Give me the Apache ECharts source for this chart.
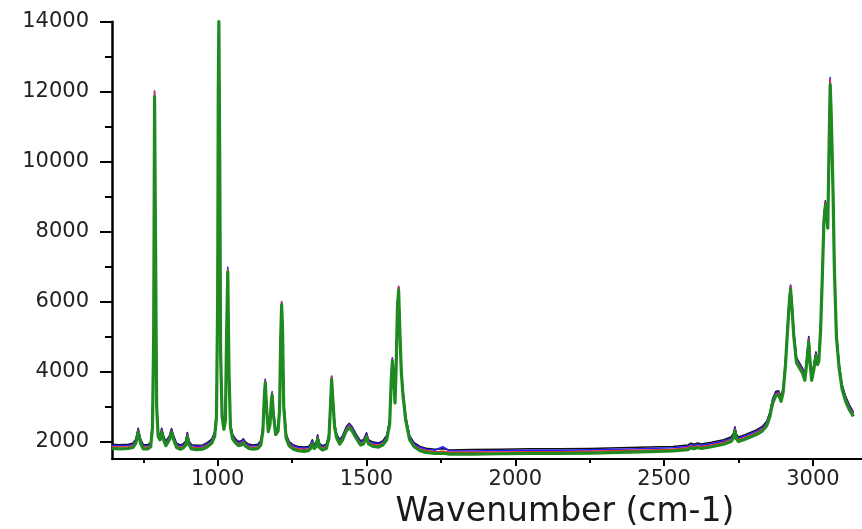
<!DOCTYPE html>
<html>
<head>
<meta charset="utf-8">
<script src="https://cdn.jsdelivr.net/npm/echarts@6/dist/echarts.min.js"></script>
<style>
html,body{margin:0;padding:0;background:#fff;}
#chart{width:862px;height:529px;}
</style>
</head>
<body>
<div id="chart"></div>
<script>
// Raman shift (cm-1)
const wavenumbers = [
  645,670,700,715,725,733,741,750,765,775,
  781,785,788,791,795,800,806,812,818,826,
  832,838,845,852,862,875,885,893,898,904,
  912,930,950,965,980,990,996,1000,1002,1004,
  1007,1010,1015,1021,1026,1030,1034,1038,1043,1050,
  1060,1070,1080,1086,1092,1105,1120,1135,1145,1152,
  1157,1160,1164,1170,1176,1180,1183,1187,1195,1203,
  1208,1212,1215,1218,1222,1230,1240,1255,1270,1290,
  1305,1312,1318,1324,1331,1336,1342,1352,1365,1374,
  1379,1383,1387,1393,1400,1410,1420,1432,1442,1452,
  1465,1480,1490,1500,1507,1520,1540,1555,1568,1578,
  1583,1587,1591,1596,1600,1604,1608,1612,1617,1623,
  1632,1645,1660,1680,1700,1730,1756,1780,1850,1950,
  2050,2150,2250,2350,2450,2530,2580,2590,2600,2613,
  2625,2660,2700,2725,2733,2738,2743,2750,2770,2790,
  2810,2830,2845,2855,2865,2875,2885,2893,2900,2908,
  2915,2921,2925,2930,2936,2945,2955,2965,2973,2980,
  2986,2991,2996,3002,3010,3016,3020,3026,3032,3037,
  3042,3047,3050,3054,3058,3061,3064,3068,3072,3079,
  3088,3098,3110,3123,3136
];

const blackCounts = [
  1920,1910,1920,1950,2070,2380,2070,1910,1910,1970,
  2520,5120,11900,8120,3120,2270,2170,2380,2170,2000,
  2020,2170,2370,2170,1950,1900,1940,2020,2260,2020,
  1910,1890,1900,1970,2070,2270,2820,6120,12000,14000,
  10120,4620,2820,2470,2720,5120,6900,4120,2520,2200,
  2080,2000,2020,2080,2000,1920,1900,1920,2020,2420,
  3420,3760,3120,2400,2620,3220,3400,2920,2320,2420,
  3020,5120,5950,5320,3120,2220,2000,1900,1860,1840,
  1860,1920,2050,1920,1970,2190,1950,1880,1920,2220,
  3120,3850,3320,2520,2220,2050,2170,2420,2520,2420,
  2220,2020,2050,2250,2050,1990,1960,2020,2170,2620,
  3820,4350,4020,3220,4320,5920,6400,5320,4120,3420,
  2720,2170,1970,1860,1810,1780,1790,1760,1770,1780,
  1790,1790,1800,1820,1840,1860,1900,1950,1920,1960,
  1930,1980,2050,2130,2230,2420,2210,2130,2190,2260,
  2330,2430,2580,2830,3230,3430,3450,3280,3530,4330,
  5330,6130,6450,5930,5130,4400,4250,4100,3900,4440,
  5000,4350,3900,4150,4560,4350,4450,5330,6930,8430,
  8880,8530,8230,10330,12350,11630,10630,9130,7130,5130,
  4240,3640,3290,3040,2850
];

const blueCounts = [
  1890,1880,1890,1920,2040,2350,2040,1880,1880,1940,
  2490,5150,12020,8150,3090,2240,2140,2350,2140,1970,
  1990,2140,2340,2140,1920,1870,1910,1990,2230,1990,
  1880,1860,1870,1940,2040,2240,2800,6100,12100,14000,
  10100,4600,2790,2440,2690,5100,6980,4100,2490,2170,
  2050,1970,1990,2050,1970,1890,1870,1890,1990,2390,
  3390,3780,3090,2370,2590,3190,3420,2890,2290,2390,
  2990,5100,6000,5300,3090,2190,1970,1870,1830,1810,
  1830,1890,2020,1890,1940,2160,1920,1850,1890,2190,
  3090,3870,3290,2490,2190,2020,2140,2390,2500,2390,
  2190,1990,2020,2220,2020,1960,1930,1990,2140,2590,
  3800,4390,3990,3190,4290,5900,6440,5300,4090,3390,
  2690,2140,1940,1830,1780,1750,1850,1730,1730,1740,
  1750,1750,1760,1780,1800,1820,1860,1910,1880,1920,
  1890,1940,2010,2090,2190,2400,2170,2090,2150,2220,
  2290,2390,2540,2790,3190,3390,3420,3240,3490,4290,
  5290,6090,6470,5890,5090,4360,4210,4060,3860,4400,
  4980,4310,3860,4110,4540,4310,4410,5290,6890,8390,
  8860,8490,8190,10290,12400,11590,10590,9090,7090,5090,
  4200,3600,3250,3000,2820
];

const redCounts = [
  1850,1840,1850,1880,2000,2320,2000,1840,1840,1900,
  2450,5100,12000,8100,3050,2200,2100,2320,2100,1930,
  1950,2100,2300,2100,1880,1830,1870,1950,2200,1950,
  1840,1820,1830,1900,2000,2200,2760,6050,12050,14000,
  10050,4550,2750,2400,2650,5050,6920,4050,2450,2130,
  2010,1930,1950,2010,1930,1850,1830,1850,1950,2350,
  3350,3740,3050,2330,2550,3150,3390,2850,2250,2350,
  2950,5050,5980,5250,3050,2150,1930,1830,1790,1770,
  1790,1850,1980,1850,1900,2120,1880,1810,1850,2150,
  3050,3840,3250,2450,2150,1980,2100,2350,2460,2350,
  2150,1950,1980,2180,1980,1920,1890,1950,2100,2550,
  3750,4360,3950,3150,4250,5850,6420,5250,4050,3350,
  2650,2100,1900,1790,1740,1710,1720,1690,1690,1700,
  1710,1710,1720,1740,1760,1780,1820,1870,1840,1880,
  1850,1900,1970,2050,2150,2360,2130,2050,2110,2180,
  2250,2350,2500,2750,3150,3350,3390,3200,3450,4250,
  5250,6050,6440,5850,5050,4320,4170,4020,3820,4360,
  4930,4270,3820,4070,4500,4270,4370,5250,6850,8350,
  8830,8450,8150,10250,12350,11550,10550,9050,7050,5050,
  4160,3560,3210,2960,2780
];

const greenCounts = [
  1800,1790,1800,1830,1950,2260,1950,1790,1790,1850,
  2400,5000,11850,8000,3000,2150,2050,2260,2050,1880,
  1900,2050,2250,2050,1830,1780,1820,1900,2140,1900,
  1790,1770,1780,1850,1950,2150,2700,6000,12000,14000,
  10000,4500,2700,2350,2600,5000,6850,4000,2400,2080,
  1960,1880,1900,1960,1880,1800,1780,1800,1900,2300,
  3300,3680,3000,2280,2500,3100,3330,2800,2200,2300,
  2900,5000,5900,5200,3000,2100,1880,1780,1740,1720,
  1740,1800,1930,1800,1850,2070,1830,1760,1800,2100,
  3000,3780,3200,2400,2100,1930,2050,2300,2400,2300,
  2100,1900,1930,2130,1930,1870,1840,1900,2050,2500,
  3700,4300,3900,3100,4200,5800,6330,5200,4000,3300,
  2600,2050,1850,1740,1690,1660,1670,1640,1640,1650,
  1660,1660,1670,1690,1710,1730,1770,1820,1790,1830,
  1800,1850,1920,2000,2100,2300,2080,2000,2060,2130,
  2200,2300,2450,2700,3100,3300,3330,3150,3400,4200,
  5200,6000,6350,5800,5000,4250,4100,3950,3750,4300,
  4850,4200,3750,4000,4430,4200,4300,5200,6800,8300,
  8750,8400,8100,10200,12200,11500,10500,9000,7000,5000,
  4100,3500,3150,2900,2720
];

const xMajorTicks = [1000, 1500, 2000, 2500, 3000];
const xMinorTicks = [750, 1250, 1750, 2250, 2750];
const yMajorTicks = [2000, 4000, 6000, 8000, 10000, 12000, 14000];
const yMinorTicks = [3000, 5000, 7000, 9000, 11000, 13000];

function pairs(ys) { return wavenumbers.map((x, i) => [x, ys[i]]); }
const plain = v => String(Math.round(v));

const chart = echarts.init(document.getElementById('chart'), null, { renderer: 'canvas' });
const fontFamily = '"DejaVu Sans", Arial, sans-serif';
const lineSeries = (name, ys, color, width, z) => ({
  name, type: 'line', data: pairs(ys), showSymbol: false, symbol: 'none',
  smooth: false, z, lineStyle: { color, width, join: 'round' }, itemStyle: { color }
});

chart.setOption({
  animation: false,
  backgroundColor: '#ffffff',
  grid: { left: 112, right: 0, top: 21.7, bottom: 70, containLabel: false, outerBoundsMode: 'none' },
  xAxis: [
    {
      type: 'value', min: 645, max: 3165, position: 'bottom',
      name: 'Wavenumber (cm-1)', nameLocation: 'middle', nameGap: 37,
      nameTextStyle: { fontFamily, fontSize: 33, color: '#1a1a1a', padding: [0, 0, 0, 156] },
      axisLine: { show: true, onZero: false, lineStyle: { color: '#000', width: 2 } },
      axisTick: { show: true, customValues: xMajorTicks, length: 7, lineStyle: { color: '#000', width: 2 } },
      axisLabel: { show: true, customValues: xMajorTicks, formatter: plain, fontFamily, fontSize: 21, color: '#222', margin: 10 },
      splitLine: { show: false }
    },
    {
      type: 'value', min: 645, max: 3165, position: 'bottom', gridIndex: 0,
      axisLine: { show: false, onZero: false },
      axisTick: { show: true, customValues: xMinorTicks, length: 4, lineStyle: { color: '#000', width: 2 } },
      axisLabel: { show: false },
      splitLine: { show: false }
    }
  ],
  yAxis: [
    {
      type: 'value', min: 1500, max: 14000, position: 'left',
      axisLine: { show: true, onZero: false, lineStyle: { color: '#000', width: 2.5 } },
      axisTick: { show: true, customValues: yMajorTicks, length: 12, lineStyle: { color: '#000', width: 2 } },
      axisLabel: { show: true, customValues: yMajorTicks, formatter: plain, fontFamily, fontSize: 21, color: '#222', margin: 23 },
      splitLine: { show: false }
    },
    {
      type: 'value', min: 1500, max: 14000, position: 'left', gridIndex: 0,
      axisLine: { show: false, onZero: false },
      axisTick: { show: true, customValues: yMinorTicks, length: 7, lineStyle: { color: '#000', width: 2 } },
      axisLabel: { show: false },
      splitLine: { show: false }
    }
  ],
  series: [
    lineSeries('black', blackCounts, '#111111', 1.5, 1),
    lineSeries('blue', blueCounts, '#2020ff', 1.6, 2),
    lineSeries('red', redCounts, '#ff2a2a', 1.5, 3),
    lineSeries('green', greenCounts, '#1f8a1f', 3.2, 4)
  ]
});
</script>
</body>
</html>
